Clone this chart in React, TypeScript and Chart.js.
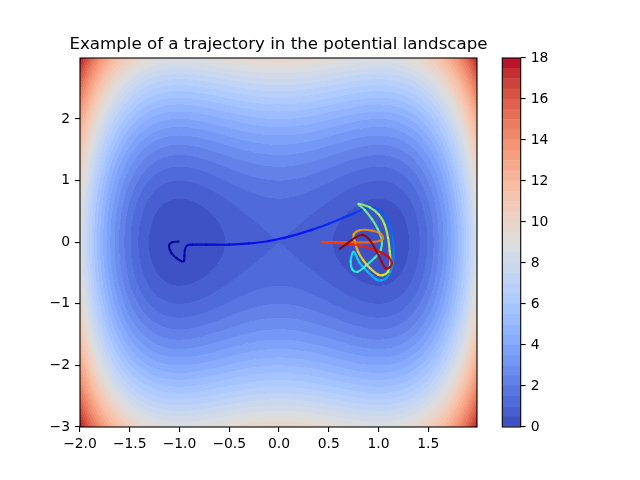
import React, { useEffect, useRef } from 'react';
import { Chart, registerables } from 'chart.js';

Chart.register(...registerables);

// ---- axes / ticks ----
const X_MIN = -2;
const X_MAX = 1.99;
const Y_MIN = -3;
const Y_MAX = 2.99;
const X_TICKS = [-2, -1.5, -1, -0.5, 0, 0.5, 1, 1.5];
const Y_TICKS = [-3, -2, -1, 0, 1, 2];
const CB_TICKS = [0, 2, 4, 6, 8, 10, 12, 14, 16, 18];

// ---- contour levels (36 bands of 0.5) ----
const LEVELS = [
  0, 0.5, 1, 1.5, 2, 2.5, 3, 3.5, 4, 4.5, 5, 5.5, 6, 6.5, 7, 7.5, 8, 8.5, 9,
  9.5, 10, 10.5, 11, 11.5, 12, 12.5, 13, 13.5, 14, 14.5, 15, 15.5, 16, 16.5,
  17, 17.5, 18,
];

// ---- potential landscape: V = WELL*(x^2-1)^2 + SPRING*y^2 ----
const WELL = 1;
const SPRING = 1;

// ---- trajectory (x, y, normalised time) ----
const TRAJ_X = [
  -1.01, -1.08, -1.105, -1.08, -1.03, -0.98, -0.955, -0.95, -0.945, -0.925, -0.87,
  -0.73, -0.5, -0.3, -0.1, 0.1, 0.33, 0.5, 0.65, 0.77, 0.84,
  0.92, 0.99, 1.062, 1.113, 1.14, 1.153, 1.146, 1.12, 1.08, 1.03, 0.979,
  0.891, 0.811, 0.75,
  0.72, 0.74, 0.791, 0.871, 0.962, 1.023,
  1.033, 0.992, 0.932, 0.862, 0.8,
  0.91, 1.005, 1.062, 1.096, 1.113, 1.12, 1.096, 1.045, 0.995,
  0.911, 0.844, 0.794, 0.761, 0.75,
  0.811, 0.932, 1.022, 1.045, 0.962, 0.811,
  0.66, 0.509, 0.429, 0.529, 0.69,
  0.861, 1.012, 1.1,
  1.133, 1.113, 1.072, 1.032, 0.972, 0.911, 0.841, 0.761, 0.68, 0.61,
];
const TRAJ_Y = [
  0.01, -0.005, -0.07, -0.18, -0.26, -0.31, -0.3, -0.22, -0.12, -0.055, -0.04,
  -0.04, -0.04, -0.02, 0.02, 0.09, 0.2, 0.3, 0.4, 0.48, 0.53,
  0.56, 0.535, 0.447, 0.285, 0.097, -0.12, -0.335, -0.48, -0.58, -0.62, -0.605,
  -0.481, -0.335, -0.157,
  -0.319, -0.449, -0.481, -0.384, -0.254, -0.125,
  0.037, 0.215, 0.377, 0.523, 0.62,
  0.567, 0.447, 0.285, 0.07, -0.146, -0.335, -0.48, -0.534, -0.525,
  -0.416, -0.287, -0.152, 0.016, 0.123,
  0.194, 0.19, 0.134, 0.053, 0.005, -0.003,
  -0.003, 0.0, 0.005, -0.011, -0.028,
  -0.076, -0.157, -0.238,
  -0.335, -0.409, -0.424, -0.319, -0.125, 0.037, 0.118, 0.07, -0.028, -0.108,
];
const TRAJ_T = [
  0.0, 0.005, 0.01, 0.017, 0.024, 0.03, 0.034, 0.04, 0.045, 0.05, 0.055,
  0.065, 0.08, 0.095, 0.11, 0.125, 0.14, 0.155, 0.17, 0.18, 0.19,
  0.2, 0.21, 0.22, 0.23, 0.24, 0.25, 0.265, 0.28, 0.29, 0.3, 0.31,
  0.325, 0.34, 0.355,
  0.37, 0.385, 0.395, 0.41, 0.425, 0.44,
  0.455, 0.47, 0.485, 0.5, 0.515,
  0.53, 0.545, 0.56, 0.575, 0.59, 0.605, 0.62, 0.635, 0.65,
  0.665, 0.68, 0.695, 0.71, 0.725,
  0.74, 0.755, 0.77, 0.78, 0.79, 0.8,
  0.815, 0.83, 0.84, 0.85, 0.865,
  0.88, 0.9, 0.92,
  0.94, 0.95, 0.955, 0.96, 0.97, 0.978, 0.985, 0.99, 0.995, 1.0,
];

const TITLE = 'Example of a trajectory in the potential landscape';
const FONT = 'DejaVu Sans';

// ---- colormaps ----
const COOLWARM: number[][] = [
  [59, 76, 192], [68, 90, 204], [77, 104, 215], [87, 117, 225], [98, 130, 234],
  [108, 142, 241], [119, 154, 247], [130, 165, 251], [141, 176, 254], [152, 185, 255],
  [163, 194, 255], [174, 201, 253], [184, 208, 249], [194, 213, 244], [204, 217, 238],
  [213, 219, 230], [221, 221, 221], [229, 216, 209], [236, 211, 197], [241, 204, 185],
  [245, 196, 173], [247, 187, 160], [247, 177, 148], [247, 166, 135], [244, 154, 123],
  [241, 141, 111], [236, 127, 99], [229, 112, 88], [222, 96, 77], [213, 80, 66],
  [203, 62, 56], [192, 40, 47], [180, 4, 38],
];

function coolwarm(v: number): number[] {
  const t = Math.max(0, Math.min(1, v)) * (COOLWARM.length - 1);
  const i = Math.min(COOLWARM.length - 2, Math.floor(t));
  const f = t - i;
  const a = COOLWARM[i];
  const b = COOLWARM[i + 1];
  return [0, 1, 2].map((k) => Math.round(a[k] + (b[k] - a[k]) * f));
}

function interp(pts: number[][], t: number): number {
  for (let i = 0; i < pts.length - 1; i++) {
    const [x0, y0] = pts[i];
    const [x1, y1] = pts[i + 1];
    if (t <= x1) return y0 + ((y1 - y0) * (t - x0)) / (x1 - x0);
  }
  return pts[pts.length - 1][1];
}

function jet(t: number, alpha = 0.85): string {
  const r = interp([[0, 0], [0.35, 0], [0.66, 1], [0.89, 1], [1, 0.5]], t);
  const g = interp([[0, 0], [0.125, 0], [0.375, 1], [0.64, 1], [0.91, 0], [1, 0]], t);
  const b = interp([[0, 0.5], [0.11, 1], [0.34, 1], [0.65, 0], [1, 0]], t);
  return `rgba(${Math.round(r * 255)},${Math.round(g * 255)},${Math.round(b * 255)},${alpha})`;
}

const vmin = LEVELS[0];
const vmax = LEVELS[LEVELS.length - 1];
const BAND_RGB = LEVELS.slice(0, -1).map((lo, i) =>
  coolwarm(((lo + LEVELS[i + 1]) / 2 - vmin) / (vmax - vmin))
);

function potential(x: number, y: number): number {
  const q = x * x - 1;
  return WELL * q * q + SPRING * y * y;
}

function bandOf(v: number): number {
  let lo = 0;
  let hi = LEVELS.length - 2;
  if (v <= LEVELS[0]) return 0;
  if (v >= LEVELS[LEVELS.length - 1]) return hi;
  while (lo < hi) {
    const mid = (lo + hi + 1) >> 1;
    if (LEVELS[mid] <= v) lo = mid;
    else hi = mid - 1;
  }
  return lo;
}

const fmt = (v: number, d: number) => {
  const s = Math.abs(v).toFixed(d);
  return v < -1e-9 ? '\u2212' + s : s;
};

const contourPlugin = {
  id: 'contourFill',
  beforeDatasetsDraw(chart: any) {
    const { ctx, chartArea: a, scales } = chart;
    const xs = scales.x;
    const ys = scales.y;
    const left = Math.round(a.left);
    const top = Math.round(a.top);
    const w = Math.round(a.right) - left;
    const h = Math.round(a.bottom) - top;
    const img = ctx.createImageData(w, h);
    const xv = new Float64Array(w);
    for (let i = 0; i < w; i++) xv[i] = xs.getValueForPixel(left + i + 0.5);
    for (let j = 0; j < h; j++) {
      const yv = ys.getValueForPixel(top + j + 0.5);
      for (let i = 0; i < w; i++) {
        const c = BAND_RGB[bandOf(potential(xv[i], yv))];
        const o = (j * w + i) * 4;
        img.data[o] = c[0];
        img.data[o + 1] = c[1];
        img.data[o + 2] = c[2];
        img.data[o + 3] = 255;
      }
    }
    ctx.putImageData(img, left, top);
  },
  afterDraw(chart: any) {
    const { ctx, chartArea: a } = chart;
    ctx.save();
    ctx.strokeStyle = '#000';
    ctx.lineWidth = 1.1;
    ctx.strokeRect(a.left, a.top, a.right - a.left, a.bottom - a.top);
    ctx.fillStyle = '#000';
    ctx.font = `16.67px "${FONT}"`;
    ctx.textAlign = 'center';
    ctx.textBaseline = 'alphabetic';
    ctx.fillText(TITLE, (a.left + a.right) / 2, a.top - 9);
    ctx.restore();
  },
};

const outlinePlugin = {
  id: 'cbOutline',
  afterDraw(chart: any) {
    const { ctx, chartArea: a } = chart;
    ctx.save();
    ctx.strokeStyle = '#000';
    ctx.lineWidth = 1.1;
    ctx.strokeRect(a.left, a.top, a.right - a.left, a.bottom - a.top);
    ctx.restore();
  },
};

const tickFont = { family: FONT, size: 13.9 };
const axisGrid = {
  drawOnChartArea: false,
  drawTicks: true,
  tickLength: 5,
  color: '#000',
  lineWidth: 1.1,
};

export default function App() {
  const mainRef = useRef<HTMLCanvasElement>(null);
  const cbRef = useRef<HTMLCanvasElement>(null);

  useEffect(() => {
    const points = TRAJ_X.map((x, i) => ({ x, y: TRAJ_Y[i] }));
    const main = new Chart(mainRef.current!, {
      type: 'scatter',
      data: {
        datasets: [
          {
            data: points,
            showLine: true,
            pointRadius: 0,
            borderWidth: 2.2,
            tension: 0.35,
            borderCapStyle: 'round',
            borderJoinStyle: 'round',
            borderColor: jet(0),
            segment: {
              borderColor: (c: any) =>
                jet((TRAJ_T[c.p0DataIndex] + TRAJ_T[c.p1DataIndex]) / 2),
            },
          } as any,
        ],
      },
      options: {
        responsive: false,
        animation: false,
        events: [],
        layout: { padding: { left: 0, right: 163, top: 58, bottom: 0 } },
        plugins: {
          legend: { display: false },
          tooltip: { enabled: false },
          title: { display: false },
        },
        scales: {
          x: {
            type: 'linear',
            min: X_MIN,
            max: X_MAX,
            afterBuildTicks: (s: any) => {
              s.ticks = X_TICKS.map((value) => ({ value }));
            },
            afterFit: (s: any) => {
              s.height = 53;
            },
            grid: axisGrid,
            border: { display: false },
            ticks: {
              color: '#000',
              font: tickFont,
              padding: 4,
              maxRotation: 0,
              autoSkip: false,
              callback: (v: any) => fmt(Number(v), 1),
            },
          },
          y: {
            type: 'linear',
            min: Y_MIN,
            max: Y_MAX,
            afterBuildTicks: (s: any) => {
              s.ticks = Y_TICKS.map((value) => ({ value }));
            },
            afterFit: (s: any) => {
              s.width = 80;
            },
            grid: axisGrid,
            border: { display: false },
            ticks: {
              color: '#000',
              font: tickFont,
              padding: 5,
              autoSkip: false,
              callback: (v: any) => fmt(Number(v), 0),
            },
          },
        },
      } as any,
      plugins: [contourPlugin],
    });

    const cb = new Chart(cbRef.current!, {
      type: 'bar',
      data: {
        labels: [''],
        datasets: BAND_RGB.map((c, i) => ({
          data: [LEVELS[i + 1] - LEVELS[i]],
          backgroundColor: `rgb(${c[0]},${c[1]},${c[2]})`,
          borderWidth: 0,
          barPercentage: 1,
          categoryPercentage: 1,
          stack: 'cb',
        })),
      },
      options: {
        responsive: false,
        animation: false,
        events: [],
        layout: { padding: { left: 502.3, right: 0, top: 58, bottom: 53 } },
        plugins: {
          legend: { display: false },
          tooltip: { enabled: false },
          title: { display: false },
        },
        scales: {
          x: { display: false, stacked: true },
          y: {
            position: 'right',
            stacked: true,
            min: vmin,
            max: vmax,
            afterBuildTicks: (s: any) => {
              s.ticks = CB_TICKS.map((value) => ({ value }));
            },
            afterFit: (s: any) => {
              s.width = 119.3;
            },
            grid: axisGrid,
            border: { display: false },
            ticks: {
              color: '#000',
              font: tickFont,
              padding: 5,
              autoSkip: false,
              callback: (v: any) => fmt(Number(v), 0),
            },
          },
        },
      } as any,
      plugins: [outlinePlugin],
    });

    return () => {
      main.destroy();
      cb.destroy();
    };
  }, []);

  const canvasStyle: React.CSSProperties = {
    position: 'absolute',
    left: 0,
    top: 0,
    width: 640,
    height: 480,
  };

  return (
    <div
      style={{
        position: 'absolute',
        left: 0,
        top: 0,
        width: 640,
        height: 480,
        background: '#fff',
      }}
    >
      <canvas ref={mainRef} width={640} height={480} style={canvasStyle} />
      <canvas ref={cbRef} width={640} height={480} style={canvasStyle} />
    </div>
  );
}
